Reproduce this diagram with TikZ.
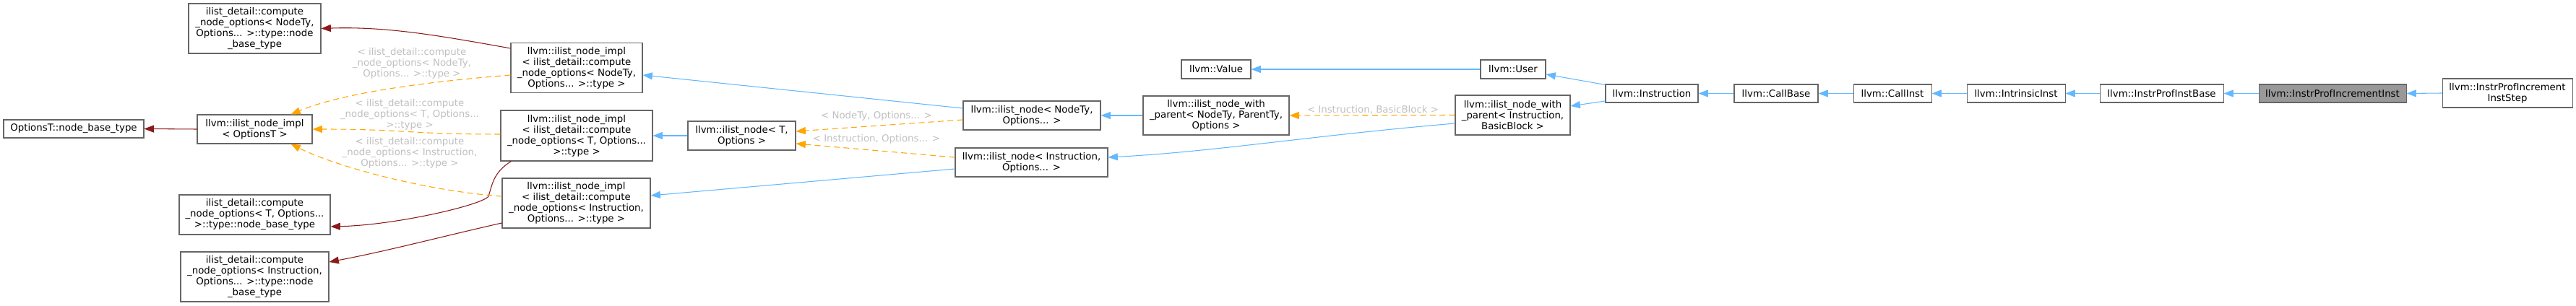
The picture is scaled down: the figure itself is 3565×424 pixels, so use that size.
\documentclass[tikz,border=0pt]{standalone}
\usepackage{fontspec}
\setmainfont{DejaVu Sans}
\usetikzlibrary{arrows.meta,calc}
\definecolor{edgeblue}{HTML}{63B8FF}
\definecolor{edgeorange}{HTML}{FFA500}
\definecolor{edgered}{HTML}{8B1A1A}
\definecolor{lblgray}{HTML}{C0C0C0}
\definecolor{nodeborder}{HTML}{666666}
\definecolor{hlfill}{HTML}{999999}
\tikzset{
  nd/.style 2 args={draw=nodeborder, fill=white, line width=0.8pt, align=center,
    inner sep=1pt, minimum width=#1*0.75pt, minimum height=#2*0.75pt,
    font=\fontsize{10}{11.25}\selectfont},
  lbl/.style={align=center, text=lblgray, inner sep=0pt, font=\fontsize{10}{11.25}\selectfont},
  tip/.style={-{Triangle[length=10pt,width=7.5pt]}},
  inh/.style={tip, draw=edgeblue, line width=0.8pt},
  tpl/.style={tip, draw=edgeorange, line width=0.8pt, dash pattern=on 6pt off 4pt},
  use/.style={tip, draw=edgered, line width=0.8pt},
}
\begin{document}
\begin{tikzpicture}[x=0.75pt,y=0.75pt]
\useasboundingbox (0,0) rectangle (3565,424);
% nodes
\node[nd={183}{69}] (nbt) at (352.5,384.5) {ilist\_detail::compute\\\_node\_options< NodeTy,\\Options... >::type::node\\\_base\_type};
\node[nd={194}{25}] (obt) at (102,245.5) {OptionsT::node\_base\_type};
\node[nd={159}{40}] (implO) at (352.5,245) {llvm::ilist\_node\_impl\\< OptionsT >};
\node[nd={209}{55}] (tbt) at (352.5,126.5) {ilist\_detail::compute\\\_node\_options< T, Options...\\>::type::node\_base\_type};
\node[nd={205}{69}] (ibt) at (352.5,40.5) {ilist\_detail::compute\\\_node\_options< Instruction,\\Options... >::type::node\\\_base\_type};
\node[nd={182}{69}] (implN) at (798,330) {llvm::ilist\_node\_impl\\< ilist\_detail::compute\\\_node\_options< NodeTy,\\Options... >::type >};
\node[nd={210}{70}] (implT) at (798,236) {llvm::ilist\_node\_impl\\< ilist\_detail::compute\\\_node\_options< T, Options...\\>::type >};
\node[nd={205}{69}] (implI) at (797.5,142.5) {llvm::ilist\_node\_impl\\< ilist\_detail::compute\\\_node\_options< Instruction,\\Options... >::type >};
\node[nd={149}{40}] (nodeT) at (1026.5,236) {llvm::ilist\_node< T,\\Options >};
\node[nd={190}{40}] (nodeN) at (1428,264) {llvm::ilist\_node< NodeTy,\\Options... >};
\node[nd={211}{40}] (nodeI) at (1427.5,199) {llvm::ilist\_node< Instruction,\\Options... >};
\node[nd={202}{54}] (wpN) at (1683,264) {llvm::ilist\_node\_with\\\_parent< NodeTy, ParentTy,\\Options >};
\node[nd={96}{26}] (value) at (1683,328) {llvm::Value};
\node[nd={90}{26}] (user) at (2094,328) {llvm::User};
\node[nd={159}{55}] (wpI) at (2093.5,264.5) {llvm::ilist\_node\_with\\\_parent< Instruction,\\BasicBlock >};
\node[nd={128}{25}] (instr) at (2286,294.5) {llvm::Instruction};
\node[nd={116}{25}] (callbase) at (2458,294.5) {llvm::CallBase};
\node[nd={108}{25}] (callinst) at (2619,294.5) {llvm::CallInst};
\node[nd={136}{25}] (intr) at (2790,294.5) {llvm::IntrinsicInst};
\node[nd={171}{25}] (ipib) at (2991.5,294.5) {llvm::InstrProfInstBase};
\node[nd={204}{25},fill=hlfill] (ipii) at (3228,294.5) {llvm::InstrProfIncrementInst};
\node[nd={180}{40}] (ipis) at (3470,295) {llvm::InstrProfIncrement\\InstStep};
% edge labels
\node[lbl] (lN) at (570,336) {< ilist\_detail::compute\\\_node\_options< NodeTy,\\Options... >::type >};
\node[lbl] (lT) at (567,265) {< ilist\_detail::compute\\\_node\_options< T, Options...\\>::type >};
\node[lbl] (lI) at (567,212) {< ilist\_detail::compute\\\_node\_options< Instruction,\\Options... >::type >};
\node[lbl] (lNN) at (1213,263) {< NodeTy, Options... >};
\node[lbl] (lNI) at (1213,231) {< Instruction, Options... >};
\node[lbl] (lWP) at (1900,272) {< Instruction, BasicBlock >};
\coordinate (rT) at (676,152);
% red (usage) edges
\draw[use] (implO.west) -- (obt.east);
\draw[use] ($(implN.west)+(0,27)$) .. controls +(-100,18) and +(90,3) .. (nbt.east);
\draw[use] ($(implT.south west)+(15,0)$) .. controls +(-25,-15) and +(5,15) .. (rT) .. controls +(-8,-12) and +(90,2) .. ($(tbt.east)+(0,-16.5)$);
\draw[use] ($(implI.west)+(0,-27.5)$) .. controls +(-80,-18) and +(80,15) .. ($(ibt.east)+(0,20.5)$);
% orange (template) edges
\draw[tpl] ($(implN.west)+(0,-10)$) .. controls +(-150,-12) and +(60,25) .. ($(implO.north)+(50,0)$);
\draw[tpl] ($(implT.west)+(0,2)$) .. controls +(-130,0) and +(130,0) .. (implO.east);
\draw[tpl] ($(implI.west)+(0,9.5)$) .. controls +(-110,8) and +(60,-30) .. ($(implO.south)+(50,0)$);
\draw[tpl] ($(nodeN.west)+(0,-6)$) -- ($(nodeT.east)+(0,6)$);
\draw[tpl] ($(nodeI.west)+(0,7)$) -- ($(nodeT.east)+(0,-11)$);
\draw[tpl] (wpI.west) -- (wpN.east);
% blue (inheritance) edges
\draw[inh] ($(nodeN.west)+(0,10)$) -- ($(implN.east)+(0,-10)$);
\draw[inh] (nodeT.west) -- (implT.east);
\draw[inh] ($(nodeI.west)+(0,-9)$) -- ($(implI.east)+(0,10.5)$);
\draw[inh] (wpN.west) -- (nodeN.east);
\draw[inh] ($(wpI.west)+(0,-11.5)$) .. controls +(-200,-17) and +(150,8) .. ($(nodeI.east)+(0,7)$);
\draw[inh] (user.west) -- (value.east);
\draw[inh] ($(instr.north west)+(0,-1)$) -- ($(user.east)+(0,-7)$);
\draw[inh] ($(instr.west)+(0,-10.5)$) -- ($(wpI.east)+(0,12.5)$);
\draw[inh] (callbase.west) -- (instr.east);
\draw[inh] (callinst.west) -- (callbase.east);
\draw[inh] (intr.west) -- (callinst.east);
\draw[inh] (ipib.west) -- (intr.east);
\draw[inh] (ipii.west) -- (ipib.east);
\draw[inh] (ipis.west) -- (ipii.east);
\end{tikzpicture}
\end{document}
